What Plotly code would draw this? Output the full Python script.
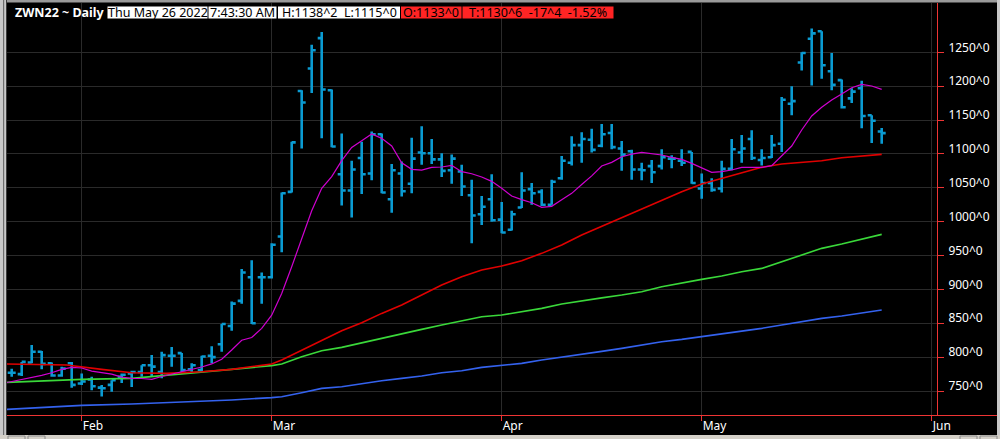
import plotly.graph_objects as go

# ---------------- data ----------------
bar_index = list(range(88))  # trading-day index, 0 = Jan 21 2022, 87 = May 26 2022

opens = [777, 775, 792, 808, 791, 773, 791, 761, 767, 755, 759, 771, 776, 778, 788, 778, 802, 806, 782, 781,
         802, 819, 846, 883, 918, 918, 918, 978, 1044, 1193, 1226, 1271, 1194, 1070, 1046, 1094, 1071, 1129, 1033, 1071,
         1056, 1102, 1101, 1092, 1076, 1074, 1039, 1011, 1033, 1003, 988, 1021, 1048, 1044, 1025, 1064, 1087, 1113, 1121, 1112,
         1131, 1108, 1104, 1077, 1082, 1082, 1093, 1090, 1103, 1049, 1057, 1049, 1078, 1102, 1122, 1091, 1095, 1115, 1174, 1235,
         1270, 1281, 1222, 1209, 1182, 1197, 1157, 1133]
highs = [783, 793, 818, 809, 792, 786, 793, 776, 771, 759, 766, 776, 780, 788, 803, 808, 815, 806, 791, 802,
         816, 849, 882, 930, 943, 925, 968, 1043, 1118, 1194, 1261, 1280, 1195, 1130, 1090, 1118, 1133, 1130, 1085, 1089,
         1124, 1141, 1122, 1101, 1099, 1084, 1062, 1038, 1070, 1029, 1016, 1073, 1057, 1048, 1062, 1097, 1126, 1132, 1137, 1144,
         1144, 1119, 1106, 1087, 1091, 1107, 1098, 1107, 1103, 1071, 1064, 1090, 1122, 1128, 1135, 1107, 1128, 1184, 1200, 1250,
         1285, 1281, 1249, 1210, 1197, 1208, 1157, 1138.25]
lows = [771, 772, 791, 782, 771, 771, 755, 759, 751, 742, 749, 762, 756, 771, 771, 769, 786, 776, 778, 778,
        791, 808, 839, 879, 849, 879, 916, 955, 1043, 1108, 1190, 1123, 1110, 1024, 1006, 1041, 1061, 1042, 1013, 1037,
        1042, 1084, 1085, 1066, 1056, 1038, 968, 995, 1000, 983, 987, 1020, 1025, 1023, 1025, 1062, 1083, 1087, 1102, 1110,
        1107, 1075, 1062, 1061, 1057, 1077, 1079, 1082, 1056, 1034, 1044, 1043, 1076, 1087, 1091, 1083, 1094, 1103, 1157, 1223,
        1201, 1211, 1194, 1167, 1175, 1138, 1116, 1115]
closes = [777, 793, 808, 790, 773, 783, 759, 764, 757, 754, 766, 774, 778, 788, 786, 803, 802, 781, 788, 801,
          800, 849, 879, 925, 850, 918, 966, 1042, 1117, 1176, 1253, 1195, 1111, 1046, 1077, 1070, 1129, 1043, 1076, 1045,
          1093, 1101, 1092, 1075, 1093, 1052, 1009, 1022, 1002, 984, 1011, 1046, 1042, 1025, 1059, 1090, 1113, 1122, 1106, 1129,
          1110, 1099, 1077, 1076, 1073, 1095, 1093, 1087, 1057, 1057, 1047, 1078, 1107, 1108, 1094, 1094, 1113, 1180, 1178, 1249,
          1278, 1231, 1202, 1169, 1192, 1156, 1149, 1130.75]

# short moving average (magenta), read at every bar (index -1 = bar before the first visible one)
ma_short_x = list(range(-1, 88))
ma_short = [761, 764, 766.5, 769.5, 773, 777, 782, 785, 784, 779.5, 777.5, 775, 770.5, 768.8, 768.5, 767.2, 771.5,
            775, 778, 781.5, 785.5, 790, 797, 810.5, 825, 829, 842.5, 862, 894, 933.5, 974, 1016, 1049.2, 1066.4,
            1090, 1109.5, 1119.5, 1129.4, 1123, 1111.7, 1087, 1077.2, 1076, 1080.2, 1080.7, 1083, 1073.8, 1070.8,
            1065.9, 1059.5, 1049.2, 1037.9, 1032.5, 1028, 1021.1, 1022.6, 1032.4, 1041.8, 1054.8, 1067.6, 1082.1,
            1087.5, 1095.9, 1099.8, 1102.3, 1100.8, 1098.4, 1094.9, 1092, 1086.1, 1079.5, 1072.8, 1073.8, 1076.3,
            1080.2, 1080.2, 1080.2, 1082.6, 1096.9, 1111.7, 1135.3, 1156, 1168.8, 1179.6, 1188.5, 1197.8, 1202.7,
            1200.3, 1195.3]

# medium moving average (red)
ma_mid_x = [-1, 3, 5.5, 9, 12, 15.5, 19, 22, 26, 27, 29, 31, 33, 35, 37, 39, 41, 43, 45, 47, 49, 51, 53, 55, 57,
            59, 61, 63, 65, 67, 69, 71, 73, 75, 77, 79, 81, 83, 85, 87]
ma_mid = [790, 789.5, 788.3, 782, 777, 776, 778.5, 782, 790, 795.7, 810.5, 825.3, 839, 850.9, 864.6, 877, 891.7,
          906.5, 918.8, 928.6, 934.5, 942.4, 953.2, 965.5, 980.3, 993, 1006.3, 1018.1, 1030.9, 1044.2, 1055.5,
          1063.9, 1072.3, 1080.2, 1085.1, 1087.5, 1090, 1094.4, 1096.9, 1099.3]

# long moving average (green)
ma_long_x = [-1, 7, 12, 15.5, 19, 22, 26, 27, 29, 31, 33, 35, 37, 39, 41, 43, 45, 47, 49, 51, 53, 55, 57, 59, 61,
             63, 65, 67, 69, 71, 73, 75, 77, 79, 81, 83, 85, 87]
ma_long = [762.5, 767.2, 768.6, 773.6, 778.5, 782, 787.5, 789.8, 800.7, 809.5, 814.4, 821.3, 827.7, 834.1, 841,
           847.4, 853.3, 859.7, 862.2, 867.1, 872, 878.4, 883.3, 887.5, 891.7, 896.6, 904, 909.9, 914.8, 919.7,
           926.1, 931, 940.9, 950.7, 960.6, 967, 974.3, 981.2]

# very long moving average (blue)
ma_vlong_x = [-1, 7, 12, 15.5, 19, 22, 26, 27, 29, 31, 33, 35, 37, 39, 41, 43, 45, 47, 49, 51, 53, 55, 57, 59, 61,
              63, 65, 67, 69, 71, 73, 75, 77, 79, 81, 83, 85, 87]
ma_vlong = [722.5, 728.8, 730.8, 732.7, 735.2, 736.7, 740.3, 741.6, 747.5, 753.9, 756.4, 761.3, 765.2, 768.7,
            772.1, 777, 780, 784.9, 787.4, 790.8, 795.7, 799.7, 804.1, 808.5, 812.9, 817.9, 822.8, 826.2, 830.2,
            834.1, 837.5, 842.5, 847.4, 852.3, 857.2, 860.7, 865.6, 869.5]

month_tick_pos = [7, 26, 49, 69, 92]
month_labels = ["Feb", "Mar", "Apr", "May", "Jun"]
price_ticks = [750, 800, 850, 900, 950, 1000, 1050, 1100, 1150, 1200, 1250]
price_labels = [f"{v}^0" for v in price_ticks]

header_title = "ZWN22 ~ Daily"
header_white = ["Thu May 26 2022", "7:43:30 AM", "H:1138^2\u00a0\u00a0L:1115^0"]
header_red = ["O:1133^0", "T:1130^6\u00a0\u00a0-17^4\u00a0\u00a0-1.52%"]

# ---------------- styling / layout ----------------
W, H = 1000, 439
ML, MR, MT, MB = 7, 63, 3, 24
PW, PH = W - ML - MR, H - MT - MB


def px(x):
    return (x - ML) / PW


def py(y):
    return (H - MB - y) / PH


BAR_BLUE = "#0a9bd2"
AXIS_RED = "#ee3434"
GRID = "#2a2a2a"
FONT = "Noto Sans"

fig = go.Figure()

for xs, ys, col, w in [
    (ma_vlong_x, ma_vlong, "#3462ee", 1.6),
    (ma_long_x, ma_long, "#3ad83a", 1.6),
    (ma_mid_x, ma_mid, "#e00000", 1.6),
    (ma_short_x, ma_short, "#d000d0", 1.2),
]:
    fig.add_trace(go.Scatter(x=xs, y=ys, mode="lines", line=dict(color=col, width=w),
                             hoverinfo="skip", showlegend=False))

fig.add_trace(go.Ohlc(
    x=bar_index, open=opens, high=highs, low=lows, close=closes,
    increasing=dict(line=dict(color=BAR_BLUE, width=2.6)),
    decreasing=dict(line=dict(color=BAR_BLUE, width=2.6)),
    tickwidth=0.4, showlegend=False, hoverinfo="skip"))

shapes = []


def rect(x0, y0, x1, y1, fill, line_color=None, lw=0):
    shapes.append(dict(type="rect", xref="paper", yref="paper",
                       x0=px(x0), x1=px(x1), y0=py(y1), y1=py(y0),
                       fillcolor=fill, line=dict(width=lw, color=line_color or fill), layer="above"))


# window chrome
rect(0, 0, 1000, 2.5, "#9a9a9a")
rect(0, 0, 7, 439, "#c8c8c8")
rect(3, 0, 4.2, 439, "#6e6e6e")
rect(6, 0, 7, 439, "#3a3a3a")
rect(997, 0, 1000, 439, "#c8c8c8")
rect(0, 435, 1000, 439, "#d4d0c8")
for bx in [(8, 25), (28, 45), (960, 977), (980, 997)]:
    rect(bx[0], 436, bx[1], 440, "#d4d0c8", "#8a8a8a", 1)
# axis line extension to the right edge
shapes.append(dict(type="line", xref="paper", yref="paper", x0=px(937), x1=px(997),
                   y0=py(415.5), y1=py(415.5), line=dict(color=AXIS_RED, width=1)))

# header boxes
white_boxes = [(107.5, 207.5), (208.5, 276.5), (278, 400)]
red_boxes = [(401, 461.5), (462.5, 613.5)]
BY0, BY1 = 6.5, 18.5
annotations = [dict(xref="paper", yref="paper", x=px(13), y=py(12.5), xanchor="left", yanchor="middle",
                    text=f"<b>{header_title}</b>", showarrow=False,
                    font=dict(family=FONT, size=12.5, color="white"))]
for (x0, x1), t in zip(white_boxes, header_white):
    rect(x0, BY0, x1, BY1, "#ffffff")
    annotations.append(dict(xref="paper", yref="paper", x=px((x0 + x1) / 2), y=py(12.6),
                            xanchor="center", yanchor="middle", text=t, showarrow=False,
                            font=dict(family=FONT, size=12.5, color="black")))
for (x0, x1), t in zip(red_boxes, header_red):
    rect(x0, BY0, x1, BY1, "#ff2424")
    annotations.append(dict(xref="paper", yref="paper", x=px((x0 + x1) / 2), y=py(12.6),
                            xanchor="center", yanchor="middle", text=t, showarrow=False,
                            font=dict(family=FONT, size=12.5, color="black")))

fig.update_layout(
    width=W, height=H,
    margin=dict(l=ML, r=MR, t=MT, b=MB, pad=0),
    paper_bgcolor="#000000", plot_bgcolor="#000000",
    showlegend=False,
    shapes=shapes, annotations=annotations,
    xaxis=dict(range=[-0.47, 92.53], rangeslider=dict(visible=False), fixedrange=True,
               tickmode="array", tickvals=month_tick_pos, ticktext=month_labels,
               ticklabelposition="outside right",
               showgrid=True, gridcolor=GRID, gridwidth=1, zeroline=False,
               showline=True, linecolor=AXIS_RED, linewidth=1,
               ticks="outside", ticklen=5, tickcolor=AXIS_RED,
               tickfont=dict(family=FONT, size=12, color="white"), automargin=False),
    yaxis=dict(range=[714.6, 1322.8], side="right", fixedrange=True,
               tickmode="array", tickvals=price_ticks, ticktext=price_labels,
               ticklabelposition="outside", ticklabelshift=-5, ticklabelstandoff=2,
               showgrid=True, gridcolor=GRID, gridwidth=1, zeroline=False,
               showline=True, linecolor=AXIS_RED, linewidth=1,
               ticks="outside", ticklen=6, tickcolor=AXIS_RED,
               tickfont=dict(family=FONT, size=12, color="white"), automargin=False),
)

fig.write_html("out.html", config={"displayModeBar": False},
               post_script="document.body.style.margin='0px';document.body.style.overflow='hidden';")
